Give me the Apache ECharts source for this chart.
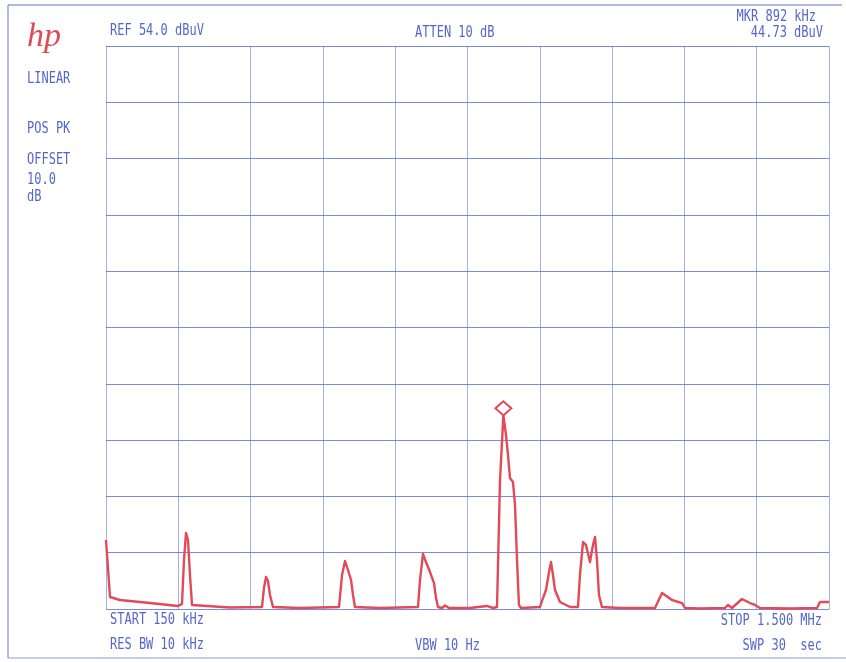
<!DOCTYPE html>
<html>
<head>
<meta charset="utf-8">
<script src="https://cdn.jsdelivr.net/npm/echarts@6/dist/echarts.min.js"></script>
<style>
  html, body { margin: 0; padding: 0; background: #ffffff; }
  #chart { width: 846px; height: 662px; }
</style>
</head>
<body>
<div id="chart"></div>
<script>
// Sweep settings
const START_KHZ = 150;
const STOP_KHZ = 1500;
const REF_DBUV = 54.0;
const MARKER_KHZ = 892;
const MARKER_DBUV = 44.73;

// Linear amplitude scale: the top graticule line is the reference level
const REF_UV = Math.pow(10, REF_DBUV / 20);
const MARKER_UV = Math.pow(10, MARKER_DBUV / 20);

// Trace: frequency (kHz) and amplitude (µV)
const traceKHz = [
  150, 157.5, 176.1, 232.2, 284.4, 291.9, 295.6, 299.4, 303.1, 306.8,
  310.6, 381.5, 441.3, 445.0, 448.8, 452.5, 456.2, 461.8, 512.2, 549.6,
  585.1, 590.7, 596.3, 601.9, 607.5, 611.2, 614.9, 661.6, 732.6, 736.3,
  741.9, 747.5, 755.0, 762.5, 766.2, 769.9, 777.4, 783.0, 790.5, 829.7,
  861.4, 872.6, 880.1, 885.7, MARKER_KHZ, 896.9, 900.6, 904.3, 909.9, 913.7,
  917.4, 921.1, 924.9, 960.4, 966.0, 971.6, 977.2, 980.9, 984.6, 988.4,
  997.7, 1016.4, 1031.3, 1035.0, 1040.7, 1046.2, 1053.7, 1059.3, 1063.1, 1066.8,
  1070.5, 1076.1, 1109.8, 1175.1, 1188.2, 1206.9, 1225.5, 1231.1, 1259.1, 1305.8,
  1311.4, 1318.8, 1337.5, 1352.5, 1361.8, 1371.1, 1427.2, 1477.6, 1483.2, 1500
];
const traceUV = [
  61.4, 10.7, 8.0, 5.3, 2.7, 4.5, 43.6, 67.7, 61.4, 30.3,
  3.6, 1.3, 1.8, 18.7, 28.5, 24.9, 12.5, 1.8, 0.9, 1.3,
  1.8, 30.3, 42.7, 34.7, 25.8, 12.5, 1.8, 0.9, 1.8, 25.8,
  49.0, 41.8, 32.9, 23.1, 9.8, 1.8, 0.9, 3.1, 0.9, 0.9,
  2.7, 0.9, 1.8, 114.8, MARKER_UV, 154.9, 137.1, 116.6, 113.1, 92.6,
  43.6, 3.6, 0.9, 1.8, 9.8, 16.9, 32.9, 41.8, 30.3, 16.9,
  6.2, 1.8, 1.8, 30.3, 59.6, 57.0, 41.8, 57.0, 64.1, 43.6,
  12.5, 1.8, 0.9, 0.9, 14.2, 8.0, 5.3, 0.9, 0.4, 0.9,
  3.6, 0.9, 8.9, 5.3, 3.6, 0.9, 0.4, 0.9, 6.2, 6.2
];

// Annotation texts around the graticule
const leftTexts = ['LINEAR', 'POS PK', 'OFFSET', '10.0', 'dB'];
const topTexts = ['REF 54.0 dBuV', 'ATTEN 10 dB', 'MKR 892 kHz', '44.73 dBuV'];
const bottomTexts = ['START 150 kHz', 'RES BW 10 kHz', 'VBW 10 Hz', 'STOP 1.500 MHz', 'SWP 30  sec'];

const INK = '#4155c6';
const TRACE = '#e24a57';
const FONT = '12px "DejaVu Sans Mono", monospace';

function label(text, x, y, align) {
  return {
    type: 'text', x: x, y: y, scaleY: 1.3, silent: true,
    style: { text: text, font: FONT, fill: INK, align: align || 'left', verticalAlign: 'middle', opacity: 0.9 }
  };
}

const chart = echarts.init(document.getElementById('chart'), null, { renderer: 'canvas' });

const gridLine = { show: true, lineStyle: { color: 'rgba(70,90,205,0.7)', width: 1 } };
const gridLineV = { show: true, lineStyle: { color: 'rgba(80,95,205,0.5)', width: 1 } };

chart.setOption({
  backgroundColor: '#ffffff',
  animation: false,
  grid: { left: 106, top: 46, width: 723, height: 563, containLabel: false },
  xAxis: [
    { // graticule divisions
      type: 'value', min: 0, max: 10, interval: 1,
      axisLine: { show: false }, axisTick: { show: false }, axisLabel: { show: false },
      splitLine: gridLineV
    },
    { // frequency scale
      type: 'value', min: START_KHZ, max: STOP_KHZ, position: 'bottom',
      axisLine: { show: false }, axisTick: { show: false }, axisLabel: { show: false },
      splitLine: { show: false }
    }
  ],
  yAxis: [
    {
      type: 'value', min: 0, max: 10, interval: 1,
      axisLine: { show: false }, axisTick: { show: false }, axisLabel: { show: false },
      splitLine: gridLine
    },
    {
      type: 'value', min: 0, max: REF_UV,
      axisLine: { show: false }, axisTick: { show: false }, axisLabel: { show: false },
      splitLine: { show: false }
    }
  ],
  series: [{
    type: 'line',
    xAxisIndex: 1, yAxisIndex: 1,
    data: traceKHz.map((f, i) => [f, traceUV[i]]),
    showSymbol: false,
    smooth: false,
    lineStyle: { color: TRACE, width: 2.4, join: 'round' },
    markPoint: {
      silent: true,
      symbol: 'diamond',
      symbolSize: [16, 14],
      symbolOffset: [0, -7],
      label: { show: false },
      itemStyle: { color: 'rgba(255,255,255,0)', borderColor: TRACE, borderWidth: 2 },
      data: [{ coord: [MARKER_KHZ, MARKER_UV] }]
    }
  }],
  graphic: [
    // page frame
    { type: 'line', silent: true, shape: { x1: 8, y1: 5, x2: 842, y2: 5 }, style: { stroke: 'rgba(70,90,200,0.55)', lineWidth: 1.5 } },
    { type: 'line', silent: true, shape: { x1: 8, y1: 5, x2: 8, y2: 658 }, style: { stroke: 'rgba(70,90,200,0.55)', lineWidth: 1.5 } },
    { type: 'line', silent: true, shape: { x1: 8, y1: 658, x2: 846, y2: 658 }, style: { stroke: 'rgba(70,90,200,0.4)', lineWidth: 1.5 } },
    // logo
    { type: 'text', x: 27, y: 37, silent: true,
      style: { text: 'hp', font: 'italic 34px "Liberation Serif", serif', fill: TRACE, align: 'left', verticalAlign: 'middle' } },
    label(leftTexts[0], 27, 79),
    label(leftTexts[1], 27, 129),
    label(leftTexts[2], 27, 160),
    label(leftTexts[3], 27, 180),
    label(leftTexts[4], 27, 197),
    label(topTexts[0], 110, 31),
    label(topTexts[1], 415, 33),
    label(topTexts[2], 816, 17, 'right'),
    label(topTexts[3], 823, 33, 'right'),
    label(bottomTexts[0], 110, 620),
    label(bottomTexts[1], 110, 645),
    label(bottomTexts[2], 415, 646),
    label(bottomTexts[3], 822, 621, 'right'),
    label(bottomTexts[4], 822, 646, 'right')
  ]
});
</script>
</body>
</html>
